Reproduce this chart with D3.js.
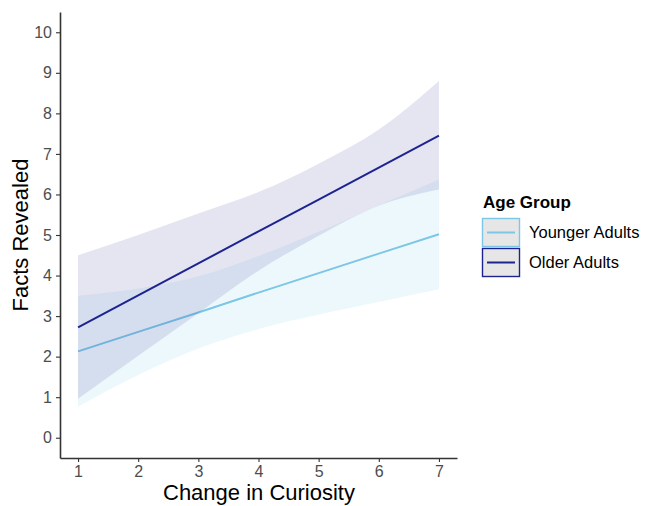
<!DOCTYPE html>
<html>
<head>
<meta charset="utf-8">
<script src="https://cdn.jsdelivr.net/npm/d3@7"></script>
<style>
  html, body { margin: 0; padding: 0; background: #fff; }
  svg { display: block; font-family: "Liberation Sans", Arial, sans-serif; }
</style>
</head>
<body>
<svg id="chart" width="646" height="506"></svg>
<script>
// ---- data ----
const curiosity = [1, 2, 3, 4, 5, 6, 7];
const groups = ["Younger Adults", "Older Adults"];
const youngerFit   = [2.13, 2.61, 3.09, 3.58, 4.06, 4.54, 5.02];
const youngerLower = [0.77, 1.55, 2.20, 2.68, 3.04, 3.35, 3.66];
const youngerUpper = [3.50, 3.68, 3.98, 4.48, 5.08, 5.73, 6.37];
const olderFit     = [2.72, 3.51, 4.30, 5.09, 5.87, 6.66, 7.45];
const olderLower   = [0.96, 2.02, 3.07, 4.12, 4.98, 5.72, 6.12];
const olderUpper   = [4.50, 5.00, 5.53, 6.06, 6.76, 7.60, 8.80];
const xTicks = [1, 2, 3, 4, 5, 6, 7];
const yTicks = [0, 1, 2, 3, 4, 5, 6, 7, 8, 9, 10];

const lineColors = { "Younger Adults": "#7cc6e6", "Older Adults": "#1d2490" };
const ribbonFills = { "Younger Adults": "rgba(135,206,235,0.15)", "Older Adults": "rgba(40,40,140,0.12)" };

const series = [
  { name: "Younger Adults", fit: youngerFit, lo: youngerLower, hi: youngerUpper },
  { name: "Older Adults",   fit: olderFit,   lo: olderLower,   hi: olderUpper }
];

// ---- layout ----
const svg = d3.select("#chart");
const mLeft = 60, mRight = 457, mTop = 12, mBottom = 458;

const x = d3.scaleLinear().domain([0.7, 7.3]).range([mLeft, mRight]);
const y = d3.scaleLinear().domain([-0.5, 10.5]).range([mBottom, mTop]);

const plot = svg.append("g");

series.forEach(s => {
  const pts = curiosity.map((c, i) => ({ c, f: s.fit[i], lo: s.lo[i], hi: s.hi[i] }));
  const area = d3.area()
    .x(d => x(d.c)).y0(d => y(d.lo)).y1(d => y(d.hi))
    .curve(d3.curveMonotoneX);
  plot.append("path").datum(pts)
    .attr("d", area)
    .attr("fill", ribbonFills[s.name])
    .attr("stroke", "none");
  const line = d3.line().x(d => x(d.c)).y(d => y(d.f));
  plot.append("path").datum(pts)
    .attr("d", line)
    .attr("fill", "none")
    .attr("stroke", lineColors[s.name])
    .attr("stroke-width", 2);
});

// ---- axes ----
const yAxis = d3.axisLeft(y).tickValues(yTicks).tickFormat(d3.format("d"))
  .tickSize(4).tickPadding(4).tickSizeOuter(0);
const xAxis = d3.axisBottom(x).tickValues(xTicks).tickFormat(d3.format("d"))
  .tickSize(4).tickPadding(4).tickSizeOuter(0);

const gy = svg.append("g").attr("transform", `translate(${mLeft},0)`).call(yAxis);
const gx = svg.append("g").attr("transform", `translate(0,${mBottom})`).call(xAxis);

[gx, gy].forEach(g => {
  g.select(".domain").attr("stroke", "#333").attr("stroke-width", 1.6);
  g.selectAll(".tick line").attr("stroke", "#333").attr("stroke-width", 1.1);
  g.selectAll(".tick text").attr("fill", "#4d4d4d").style("font-size", "16px")
    .style("font-family", "'Liberation Sans', Arial, sans-serif");
});

// axis titles
svg.append("text")
  .attr("x", 259).attr("y", 500)
  .attr("text-anchor", "middle")
  .style("font-size", "22px").attr("fill", "#000")
  .text("Change in Curiosity");

svg.append("text")
  .attr("transform", "translate(28,235) rotate(-90)")
  .attr("text-anchor", "middle")
  .style("font-size", "22px").attr("fill", "#000")
  .text("Facts Revealed");

// ---- legend ----
const lg = svg.append("g").attr("transform", "translate(482,0)");
lg.append("text").attr("x", 1).attr("y", 208)
  .style("font-size", "17px").style("font-weight", "bold").attr("fill", "#000")
  .text("Age Group");

groups.forEach((gname, i) => {
  const yy = 218 + i * 30;
  lg.append("rect").attr("x", 0.5).attr("y", yy + 0.5).attr("width", 37).attr("height", 28)
    .attr("fill", "#e6e6e6").attr("stroke", lineColors[gname]).attr("stroke-width", 1.4);
  lg.append("line").attr("x1", 5).attr("x2", 33).attr("y1", yy + 14.5).attr("y2", yy + 14.5)
    .attr("stroke", lineColors[gname]).attr("stroke-width", 2);
  lg.append("text").attr("x", 47).attr("y", yy + 14.5).attr("dy", "0.35em")
    .style("font-size", "16.5px").attr("fill", "#000")
    .text(gname);
});
</script>
</body>
</html>
